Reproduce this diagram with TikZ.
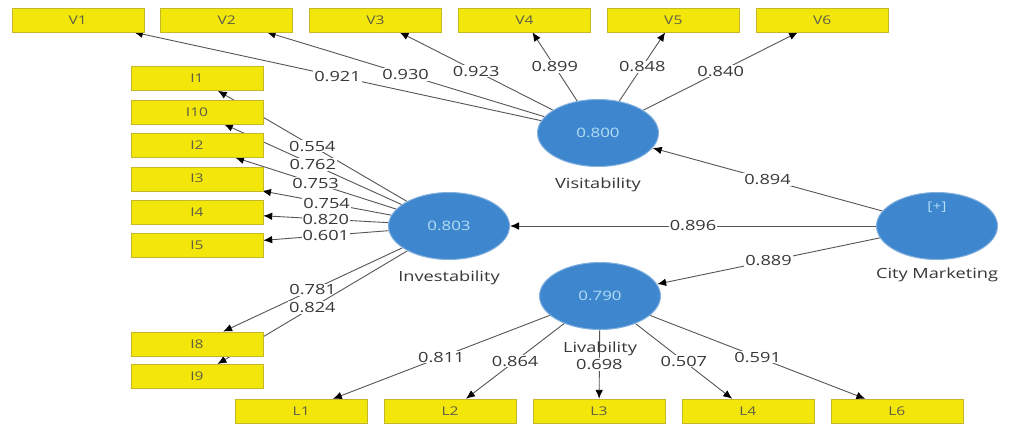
\documentclass[tikz,border=0pt]{standalone}
\usepackage{fontspec}
\setmainfont{Open Sans}[FakeStretch=1.3]
\usetikzlibrary{matrix,arrows.meta,positioning,shapes.geometric,backgrounds}
\definecolor{lvblue}{RGB}{62,134,206}
\definecolor{lvtext}{RGB}{178,222,246}
\definecolor{indfill}{RGB}{242,230,10}
\definecolor{indline}{RGB}{196,184,40}
\definecolor{indtext}{RGB}{95,95,70}
\definecolor{pathgray}{RGB}{85,85,85}
\definecolor{valgray}{RGB}{55,55,55}
\tikzset{
  ind/.style={draw=indline, fill=indfill, minimum width=132pt, minimum height=24pt,
    inner sep=0pt, text=indtext, font=\fontsize{12}{14}\selectfont},
  lv/.style={ellipse, fill=lvblue, draw=lvblue!65!white, line width=1pt,
    minimum width=121pt, minimum height=67pt, inner sep=0pt, text=lvtext,
    font=\fontsize{13}{15}\selectfont},
  lvname/.style={text=valgray, font=\fontsize{14}{16}\selectfont},
  val/.style={fill=white, inner sep=1pt, text=valgray, font=\fontsize{14}{16}\selectfont},
  link/.style={draw=pathgray, line width=0.9pt, -{Latex[length=9pt,width=7.5pt,color=black]}}
}
\begin{document}
\begin{tikzpicture}[x=1pt, y=-1pt]
 \useasboundingbox (0,0) rectangle (1015,424);
 % indicator blocks
 \matrix (V) [matrix of nodes, column sep=16.5pt, nodes={ind}] at (450,20)
  { V1 & V2 & V3 & V4 & V5 & V6 \\ };
 \matrix (I) [matrix of nodes, row sep=9pt, nodes={ind}] at (197,162)
  { I1 \\ I10 \\ I2 \\ I3 \\ I4 \\ I5 \\ };
 \matrix (J) [matrix of nodes, row sep=8pt, nodes={ind}] at (197,360)
  { I8 \\ I9 \\ };
 \matrix (L) [matrix of nodes, column sep=16.5pt, nodes={ind}] at (599,411)
  { L1 & L2 & L3 & L4 & L6 \\ };
 % constructs
 \node[lv] (vis) at (598,133) {0.800};
 \node[lv] (inv) at (449,226) {0.803};
 \node[lv] (liv) at (600,296) {0.790};
 \node[lv] (cm) at (937,226) {};
 \node[text=lvtext, font=\fontsize{12}{14}\selectfont] (cmplus) at ([yshift=19pt]cm.center) {[+]};
 \node[lvname, below=7pt of vis] (visname) {Visitability};
 \node[lvname, below=7pt of inv] (invname) {Investability};
 \node[lvname, below=8pt of liv] (livname) {Livability};
 \node[lvname, below=4pt of cm] (cmname) {City Marketing};
 \begin{scope}[on background layer]
 \fill[white] (0,0) rectangle (1015,424);
 \path[link]
  (vis) edge node[val] {0.921} (V-1-1)
        edge node[val] {0.930} (V-1-2)
        edge node[val] {0.923} (V-1-3)
        edge node[val] {0.899} (V-1-4)
        edge node[val] {0.848} (V-1-5)
        edge node[val] {0.840} (V-1-6)
  (inv) edge node[val] {0.554} (I-1-1)
        edge node[val] {0.762} (I-2-1)
        edge node[val] {0.753} (I-3-1)
        edge node[val] {0.754} (I-4-1)
        edge node[val] {0.820} (I-5-1)
        edge node[val] {0.601} (I-6-1)
        edge node[val] {0.781} (J-1-1)
        edge node[val] {0.824} (J-2-1)
  (liv) edge node[val] {0.811} (L-1-1)
        edge node[val] {0.864} (L-1-2)
        edge node[val] {0.698} (L-1-3)
        edge node[val] {0.507} (L-1-4)
        edge node[val] {0.591} (L-1-5)
  (cm)  edge node[val] {0.894} (vis)
        edge node[val] {0.896} (inv)
        edge node[val] {0.889} (liv);
 \end{scope}
\end{tikzpicture}
\end{document}
